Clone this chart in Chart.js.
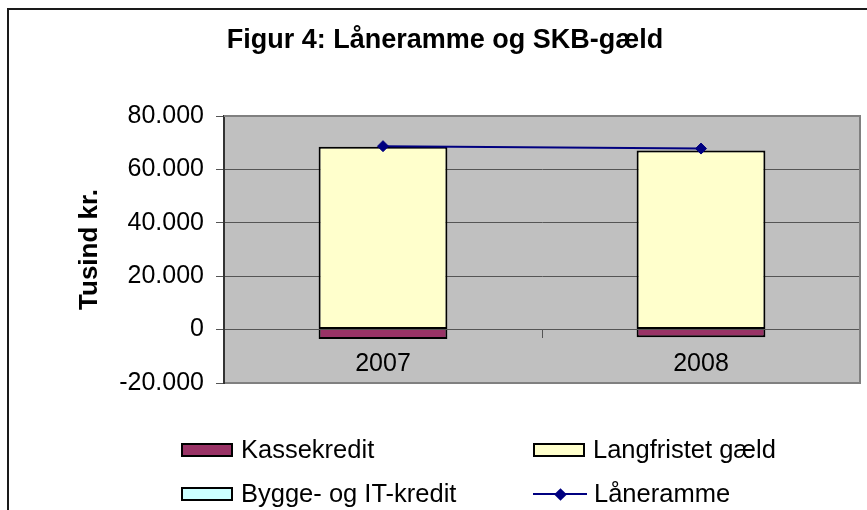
<!DOCTYPE html>
<html><head><meta charset="utf-8">
<script src="https://cdn.jsdelivr.net/npm/chart.js@4"></script>
<style>
html,body{margin:0;padding:0;background:#fff;overflow:hidden}
#wrap{position:relative;width:890px;height:510px}
#legend{position:absolute;left:181px;top:435px;display:grid;grid-template-columns:352px auto;grid-auto-rows:44px;font-family:"Liberation Sans",Arial,sans-serif;font-size:25.5px;color:#000}
.item{display:flex;align-items:center;height:30px;white-space:nowrap}
.box{width:52px;height:14px;box-sizing:border-box;border:2px solid #000;margin-right:8px;flex:none}
.linekey{position:relative;width:54px;height:14px;margin-right:7px;flex:none}
.linekey::before{content:"";position:absolute;left:0;right:0;top:6px;height:2px;background:#000080}
.linekey i{position:absolute;left:22.5px;top:2.5px;width:9px;height:9px;background:#000080;transform:rotate(45deg)}
.lbl{position:relative;top:-1px}
</style></head>
<body><div id="wrap"><canvas id="c" width="890" height="510"></canvas><div id="legend"></div></div>
<script>
const categories = ['2007', '2008'];
const seriesNames = ['Kassekredit', 'Langfristet gæld', 'Bygge- og IT-kredit', 'Låneramme'];
const kassekredit = [-3500, -2900];
const langfristetGaeld = [68500, 67100];
const byggeOgITKredit = [0, 0];
const laaneramme = [68700, 67800];
const yTickValues = [-20000, 0, 20000, 40000, 60000, 80000];
const yTickLabels = ['-20.000', '0', '20.000', '40.000', '60.000', '80.000'];
const titleText = 'Figur 4: Låneramme og SKB-gæld';
const yAxisTitle = 'Tusind kr.';

const FAMILY = '"Liberation Sans", Arial, sans-serif';
const seriesColors = ['#993366', '#FFFFCC', '#CCFFFF', '#000080'];

const plotDecor = {
  id: 'plotDecor',
  beforeDraw(chart) {
    const {ctx, chartArea: a} = chart;
    ctx.save();
    ctx.fillStyle = '#fff';
    ctx.fillRect(0, 0, chart.width, chart.height);
    ctx.fillStyle = '#C0C0C0';
    ctx.fillRect(a.left, a.top, a.right - a.left, a.bottom - a.top);
    ctx.strokeStyle = '#1a1a1a';
    ctx.lineWidth = 2;
    ctx.strokeRect(8, 9, 1000, 1000);
    ctx.restore();
  },
  beforeDatasetsDraw(chart) {
    const {ctx, chartArea: a} = chart;
    ctx.save();
    ctx.strokeStyle = '#808080';
    ctx.lineWidth = 2;
    ctx.beginPath();
    ctx.moveTo(a.left, a.top); ctx.lineTo(a.right, a.top);
    ctx.lineTo(a.right, a.bottom); ctx.lineTo(a.left + 1, a.bottom);
    ctx.stroke();
    ctx.restore();
  }
};

const chart = new Chart(document.getElementById('c'), {
  data: {
    labels: categories,
    datasets: [
      { type: 'bar', label: seriesNames[0], data: kassekredit, backgroundColor: seriesColors[0],
        borderColor: '#000', borderWidth: 2, borderSkipped: 'start', stack: 'debt' },
      { type: 'bar', label: seriesNames[1], data: langfristetGaeld, backgroundColor: seriesColors[1],
        borderColor: '#000', borderWidth: 2, borderSkipped: false, stack: 'debt' },
      { type: 'bar', label: seriesNames[2], data: byggeOgITKredit, backgroundColor: seriesColors[2],
        borderColor: '#000', borderWidth: 2, borderSkipped: false, stack: 'debt' },
      { type: 'line', label: seriesNames[3], data: laaneramme, borderColor: seriesColors[3],
        backgroundColor: seriesColors[3], borderWidth: 2, pointStyle: 'rectRot', pointRadius: 5.5,
        pointBorderWidth: 1, pointBackgroundColor: seriesColors[3], pointBorderColor: seriesColors[3],
        fill: false, tension: 0, stack: 'limit', order: -1 }
    ]
  },
  options: {
    responsive: false,
    animation: false,
    devicePixelRatio: 1,
    layout: { padding: { left: 30, right: 30, top: 0, bottom: 127 } },
    datasets: { bar: { barPercentage: 0.405, categoryPercentage: 1 } },
    plugins: {
      legend: { display: false },
      tooltip: { enabled: false },
      title: { display: true, text: titleText, color: '#000',
        font: { family: FAMILY, size: 27, weight: 'bold' }, padding: { top: 24.3, bottom: 59.3 } }
    },
    scales: {
      x: {
        type: 'category', stacked: true, position: { y: 0 }, offset: true,
        grid: { display: true, drawOnChartArea: false, drawTicks: true, tickLength: 8, offset: true, color: '#555', lineWidth: 1 },
        border: { display: true, color: '#555', width: 1 },
        ticks: { color: '#000', font: { family: FAMILY, size: 25 }, padding: 12, maxRotation: 0 }
      },
      y: {
        stacked: true, min: -20000, max: 80000,
        afterFit(s) { s.width = 194; },
        afterBuildTicks(s) { s.ticks = yTickValues.map(v => ({ value: v })); },
        ticks: { color: '#000', font: { family: FAMILY, size: 25 }, padding: 12,
          callback: v => { const i = yTickValues.indexOf(v); return i >= 0 ? yTickLabels[i] : ''; } },
        grid: { color: '#555', lineWidth: 1, tickLength: 8, drawTicks: true },
        border: { color: '#333', width: 2 },
        title: { display: true, text: yAxisTitle, color: '#000',
          font: { family: FAMILY, size: 26, weight: 'bold' }, padding: { top: 44.4, bottom: 0 } }
      }
    }
  },
  plugins: [plotDecor]
});

const legendEl = document.getElementById('legend');
chart.data.datasets.forEach(ds => {
  const item = document.createElement('div');
  item.className = 'item';
  const key = document.createElement('span');
  if (ds.type === 'line') {
    key.className = 'linekey';
    key.appendChild(document.createElement('i'));
  } else {
    key.className = 'box';
    key.style.background = ds.backgroundColor;
  }
  const lbl = document.createElement('span');
  lbl.className = 'lbl';
  lbl.textContent = ds.label;
  item.appendChild(key);
  item.appendChild(lbl);
  legendEl.appendChild(item);
});
</script>
</body></html>
